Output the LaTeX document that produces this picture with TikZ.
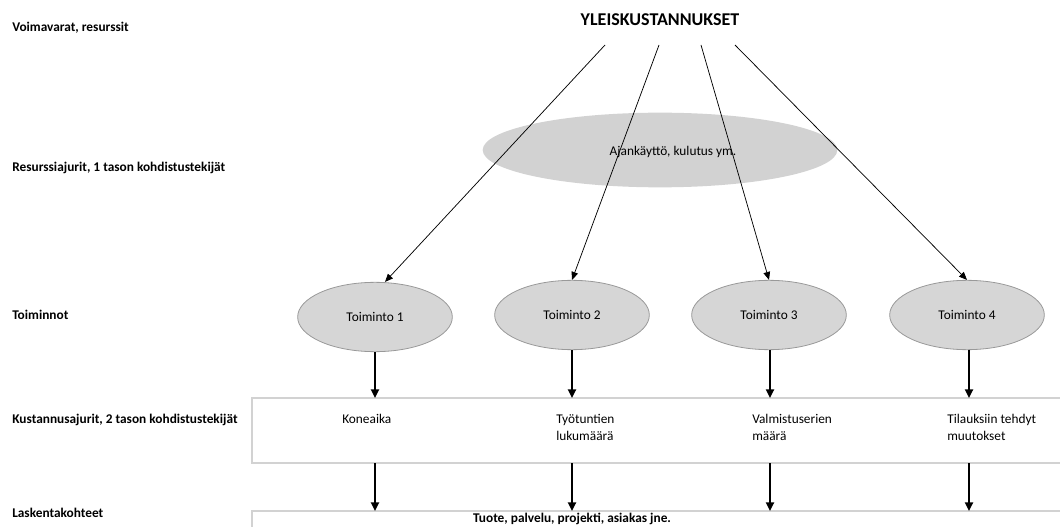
\documentclass[tikz,border=0pt]{standalone}
\usepackage{fontspec}
\setmainfont{Carlito}
\usetikzlibrary{arrows.meta, positioning, shapes.geometric}

\begin{document}
\begin{tikzpicture}[
    x=0.75pt, y=-0.75pt,
    every node/.style={font=\fontsize{10}{13}\selectfont, inner sep=0pt},
    levelname/.style={anchor=west, font=\fontsize{10}{12}\selectfont\bfseries},
    activity/.style={ellipse, draw=gray!80, line width=0.6pt, fill=gray!32, minimum width=116pt, minimum height=52pt},
    drivertext/.style={anchor=north west, align=left},
    band/.style={draw=gray!35, line width=0.8pt},
    thinarrow/.style={-{Triangle[length=6pt, width=5pt]}, line width=0.55pt},
    arrow/.style={-{Triangle[length=6.5pt, width=6pt]}, line width=1.6pt}
]
    \clip (0,0) rectangle (1060,527);

    % level names on the left
    \node[levelname] (lvl1) at (12,28) {Voimavarat, resurssit};
    \node[levelname] (lvl2) at (12,168) {Resurssiajurit, 1 tason kohdistustekijät};
    \node[levelname] (lvl3) at (12,315) {Toiminnot};
    \node[levelname] (lvl4) at (12,420) {Kustannusajurit, 2 tason kohdistustekijät};
    \node[levelname] (lvl5) at (12,513) {Laskentakohteet};

    % overhead and resource drivers
    \node[font=\fontsize{13.5}{15}\selectfont\bfseries] (overhead) at (660,20) {YLEISKUSTANNUKSET};
    \node[ellipse, fill=gray!35, minimum width=266pt, minimum height=56pt] (drivers) at (660,150) {};
    \node (usage) at (673,152) {Ajankäyttö, kulutus ym.};

    % bands for cost drivers and cost objects
    \draw[band] (1065,398) -- (252,398) -- (252,463) -- (1065,463);
    \draw[band] (1065,511) -- (252,511) -- (252,540);

    % activities
    \node[activity] (act1) at (375,317) {Toiminto 1};
    \node[activity] (act2) at (572,315) {Toiminto 2};
    \node[activity] (act3) at (769,315) {Toiminto 3};
    \node[activity] (act4) at (967,315) {Toiminto 4};

    % cost drivers
    \node[drivertext] (drv1) at (342,414) {Koneaika};
    \node[drivertext] (drv2) at (556,414) {Työtuntien\\lukumäärä};
    \node[drivertext] (drv3) at (752,414) {Valmistuserien\\määrä};
    \node[drivertext] (drv4) at (947,414) {Tilauksiin tehdyt\\muutokset};

    % cost object
    \node[font=\fontsize{10}{13}\selectfont\bfseries] (object) at (572,519) {Tuote, palvelu, projekti, asiakas jne.};

    % connectors
    \coordinate (from1) at (605,45);
    \coordinate (from2) at (659,45);
    \coordinate (from3) at (701,45);
    \coordinate (from4) at (735,45);
    \draw[thinarrow] (from1) -- (act1.north -| 385,0);
    \draw[thinarrow] (from2) -- (act2.north);
    \draw[thinarrow] (from3) -- (act3.north);
    \draw[thinarrow] (from4) -- (act4.north);

    \foreach \i/\x in {1/375, 2/572, 3/770, 4/969} {
        \coordinate (top\i) at (\x,398);
        \coordinate (low\i) at (\x,463);
        \coordinate (bot\i) at (\x,511);
        \draw[arrow] (act\i.south -| top\i) -- (top\i);
        \draw[arrow] (low\i) -- (bot\i);
    }
\end{tikzpicture}
\end{document}
